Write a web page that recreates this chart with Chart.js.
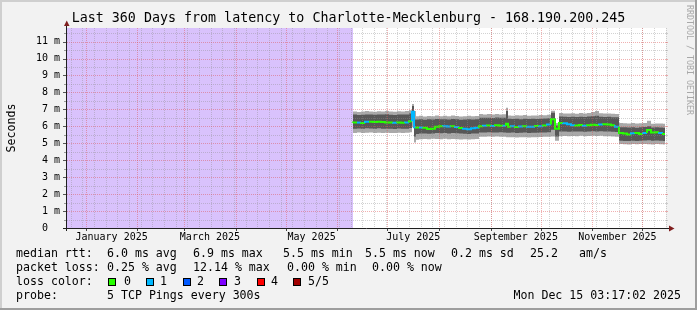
<!DOCTYPE html>
<html><head><meta charset="utf-8">
<script src="https://cdn.jsdelivr.net/npm/chart.js@4.4.1/dist/chart.umd.min.js"></script>
<style>html,body{margin:0;padding:0;background:#f2f2f2;overflow:hidden}canvas{display:block}</style>
</head><body>
<canvas id="c" width="697" height="310"></canvas>
<script>
// ---------- data ----------
const titleText = 'Last 360 Days from latency to Charlotte-Mecklenburg - 168.190.200.245';
const yAxisTitle = 'Seconds';
const endTime = Date.UTC(2025, 11, 15, 3, 17, 2);
const spanDays = 360;
const yMax = 11.8; // ms
const yTickValues = [0,1,2,3,4,5,6,7,8,9,10,11];
const yTickLabels = ['0  ','1 m','2 m','3 m','4 m','5 m','6 m','7 m','8 m','9 m','10 m','11 m'];
const xLabelMonths = [0, 2, 4, 6, 8, 10]; // months of 2025
const xLabels = ['January 2025','March 2025','May 2025','July 2025','September 2025','November 2025'];

// days since start of graph window
const days = [172.2,174.6,177.0,179.4,181.8,184.2,186.6,189.0,191.4,193.8,196.2,198.6,201.0,203.4,205.8,207.6,
  208.8,210.0,
  211.8,214.2,216.6,219.0,221.4,223.8,226.2,228.6,231.0,233.4,235.8,238.2,240.6,243.0,245.4,247.8,250.2,
  252.6,255.0,257.4,259.8,262.2,264.0,
  265.2,
  267.0,269.4,271.8,274.2,276.6,279.0,281.4,283.8,286.2,288.6,291.0,
  293.4,295.8,
  298.2,300.6,303.0,305.4,307.8,310.2,312.6,315.0,317.4,319.8,322.2,324.6,327.0,329.4,331.8,
  334.2,336.6,339.0,341.4,343.8,346.2,348.6,351.0,353.4,355.8,358.2,359.4];

const lightTop = [6.86,6.88,6.85,6.87,6.90,6.88,6.86,6.89,6.87,6.90,6.88,6.86,6.89,6.88,6.90,6.95,
  7.32,6.90,
  6.60,6.62,6.58,6.61,6.60,6.63,6.60,6.62,6.59,6.64,6.61,6.58,6.60,6.62,6.59,6.61,6.72,
  6.70,6.72,6.69,6.73,6.70,6.71,
  7.10,
  6.64,6.62,6.65,6.63,6.66,6.62,6.64,6.63,6.66,6.65,6.68,
  6.92,6.20,
  6.78,6.76,6.75,6.77,6.74,6.78,6.76,6.79,6.85,6.90,6.77,6.75,6.76,6.74,6.73,
  6.20,6.18,6.17,6.19,6.16,6.18,6.20,6.33,6.15,6.17,6.16,6.15];

const darkTop = [6.68,6.69,6.67,6.68,6.70,6.69,6.68,6.70,6.69,6.71,6.68,6.67,6.70,6.69,6.70,6.75,
  7.20,6.40,
  6.40,6.41,6.39,6.42,6.40,6.43,6.41,6.42,6.40,6.43,6.41,6.39,6.40,6.42,6.40,6.41,6.50,
  6.50,6.51,6.49,6.52,6.50,6.51,
  6.90,
  6.44,6.43,6.45,6.42,6.44,6.43,6.44,6.43,6.45,6.46,6.47,
  6.80,6.05,
  6.58,6.56,6.55,6.57,6.55,6.56,6.55,6.58,6.60,6.62,6.56,6.55,6.56,6.54,6.53,
  5.95,5.94,5.93,5.94,5.92,5.95,5.96,6.00,5.93,5.94,5.93,5.92];

const median = [6.21,6.22,6.22,6.20,6.27,6.27,6.26,6.27,6.25,6.23,6.22,6.21,6.23,6.21,6.22,6.30,
  6.86,5.95,
  5.93,5.93,5.92,5.84,5.86,5.97,6.00,6.01,5.99,6.00,5.96,5.90,5.85,5.83,5.88,5.92,6.00,
  6.03,6.05,6.02,6.06,6.04,6.03,
  6.15,
  5.98,6.00,5.96,5.99,6.01,5.97,5.98,6.02,6.00,6.05,6.10,
  6.41,5.85,
  6.20,6.18,6.12,6.06,6.05,6.08,6.04,6.06,6.09,6.08,6.10,6.12,6.10,6.06,5.98,
  5.60,5.58,5.52,5.59,5.60,5.55,5.61,5.78,5.64,5.65,5.60,5.55];

const darkBot = [5.86,5.85,5.87,5.85,5.88,5.87,5.86,5.88,5.86,5.85,5.86,5.84,5.87,5.85,5.86,5.90,
  6.40,5.40,
  5.55,5.58,5.57,5.56,5.58,5.60,5.59,5.60,5.58,5.60,5.59,5.57,5.56,5.55,5.57,5.58,5.63,
  5.64,5.65,5.63,5.64,5.65,5.64,
  5.62,
  5.62,5.63,5.61,5.62,5.63,5.61,5.62,5.62,5.63,5.64,5.65,
  5.80,5.40,
  5.70,5.69,5.68,5.70,5.69,5.70,5.68,5.70,5.71,5.70,5.71,5.70,5.69,5.68,5.66,
  5.15,5.14,5.13,5.15,5.14,5.15,5.16,5.17,5.15,5.16,5.15,5.14];

const lightBot = [5.62,5.60,5.63,5.61,5.62,5.63,5.61,5.62,5.60,5.62,5.61,5.60,5.62,5.61,5.62,5.65,
  5.95,5.05,
  5.20,5.24,5.25,5.23,5.26,5.25,5.24,5.26,5.23,5.25,5.24,5.22,5.23,5.22,5.24,5.25,5.38,
  5.39,5.40,5.38,5.40,5.39,5.38,
  5.35,
  5.35,5.36,5.34,5.35,5.36,5.34,5.35,5.36,5.37,5.38,5.39,
  5.40,5.15,
  5.42,5.43,5.41,5.43,5.42,5.44,5.42,5.43,5.44,5.43,5.44,5.42,5.41,5.40,5.38,
  4.95,4.94,4.93,4.95,4.94,4.96,4.95,4.94,4.93,4.95,4.94,4.93];

const lossCount = [0,1,0,1,0,0,0,0,0,0,1,0,0,1,0,1,
  1,0,
  1,0,0,0,0,0,1,1,0,1,0,1,1,1,1,0,1,
  0,1,0,0,1,0,
  0,
  1,0,1,0,1,1,0,1,0,1,0,
  0,0,
  1,1,1,0,0,1,0,0,0,1,0,0,0,1,0,
  0,0,1,0,0,1,0,0,0,1,0,0];

const lossColors = ['#26ff00','#00b8ff','#0059ff','#7e00ff','#ff0000','#a10000'];
const lossLabels = ['0','1','2','3','4','5/5'];
const rttStats = ['6.0 ms avg','6.9 ms max','5.5 ms min','5.5 ms now','0.2 ms sd','25.2','am/s'];
const lossStats = ['0.25 % avg','12.14 % max','0.00 % min','0.00 % now'];
const probeText = '5 TCP Pings every 300s';
const dateText = 'Mon Dec 15 03:17:02 2025';
const watermark = 'RRDTOOL / TOBI OETIKER';

// ---------- helpers ----------
const startTime = endTime - spanDays * 86400000;
const dayOf = (y, m, d) => (Date.UTC(y, m, d) - startTime) / 86400000;
const pts = arr => days.map((d, i) => ({x: d, y: arr[i]}));
const noData = [{x: 0, y: yMax}, {x: days[0], y: yMax}];

const MONO = '"DejaVu Sans Mono", monospace';
Chart.defaults.font.family = MONO;

const rrdPlugin = {
  id: 'rrd',
  beforeDraw(chart) {
    const c = chart.ctx, a = chart.chartArea, W = chart.width, H = chart.height;
    c.save();
    c.fillStyle = '#f2f2f2'; c.fillRect(0, 0, W, H);
    c.fillStyle = '#ffffff'; c.fillRect(a.left, a.top, a.right - a.left, a.bottom - a.top);
    c.fillStyle = '#cfcfcf'; c.fillRect(0, 0, W, 2); c.fillRect(0, 0, 2, H);
    c.fillStyle = '#9e9e9e'; c.fillRect(0, H - 2, W, 2); c.fillRect(W - 2, 0, 2, H);
    c.restore();
  },
  afterDatasetsDraw(chart) {
    const c = chart.ctx, a = chart.chartArea;
    const xs = chart.scales.x, ys = chart.scales.y;
    const minor = 'rgba(143,143,143,0.4)', major = 'rgba(222,79,79,0.45)';
    c.save();
    c.lineWidth = 1;
    const hline = (v, col) => {
      const y = Math.round(ys.getPixelForValue(v)) + 0.5;
      c.strokeStyle = col; c.setLineDash([1, 1]);
      c.beginPath(); c.moveTo(a.left + 1, y); c.lineTo(a.right, y); c.stroke();
      c.setLineDash([]);
      c.beginPath(); c.moveTo(a.right, y); c.lineTo(a.right + 2, y); c.stroke();
      c.strokeStyle = col === major ? '#555' : '#999';
      c.beginPath(); c.moveTo(a.left - (col === major ? 3 : 2), y); c.lineTo(a.left, y); c.stroke();
    };
    const vline = (d, col, tick) => {
      const x = Math.round(xs.getPixelForValue(d)) + 0.5;
      c.strokeStyle = col; c.setLineDash([1, 1]);
      c.beginPath(); c.moveTo(x, a.top); c.lineTo(x, a.bottom); c.stroke();
      c.setLineDash([]);
      if (tick) {
        c.strokeStyle = '#444';
        c.beginPath(); c.moveTo(x, a.bottom); c.lineTo(x, a.bottom + 3); c.stroke();
      }
    };
    for (let v = 0.5; v < yMax; v += 1) hline(v, minor);
    for (let d = dayOf(2024, 11, 23); d < spanDays; d += 7) vline(d, minor, false);
    yTickValues.forEach(v => { if (v > 0) hline(v, major); });
    for (let m = 0; m < 12; m++) vline(dayOf(2025, m, 1), major, true);
    // axes
    c.strokeStyle = '#1f1f1f';
    c.beginPath(); c.moveTo(a.left + 0.5, a.bottom + 3); c.lineTo(a.left + 0.5, a.top - 2); c.stroke();
    c.beginPath(); c.moveTo(a.left - 3, a.bottom + 0.5); c.lineTo(a.right + 4, a.bottom + 0.5); c.stroke();
    // arrows
    c.fillStyle = 'rgb(128,31,31)';
    c.beginPath(); c.moveTo(a.left - 2, a.top - 2); c.lineTo(a.left + 3.5, a.top - 2); c.lineTo(a.left + 0.75, a.top - 7.5); c.closePath(); c.fill();
    c.beginPath(); c.moveTo(a.right + 3, a.bottom - 2.5); c.lineTo(a.right + 3, a.bottom + 3.5); c.lineTo(a.right + 8.5, a.bottom + 0.5); c.closePath(); c.fill();
    c.restore();
  },
  afterDraw(chart) {
    const c = chart.ctx;
    c.save();
    c.fillStyle = '#000';
    c.textBaseline = 'middle';
    c.textAlign = 'left';
    c.font = '11.6px ' + MONO;
    c.fillText('median rtt:', 16, 254);
    const rx = [107, 193, 283, 365, 451, 530, 579];
    rttStats.forEach((t, i) => c.fillText(t, rx[i], 254));
    c.fillText('packet loss:', 16, 268);
    const lx = [107, 193, 287, 372];
    lossStats.forEach((t, i) => c.fillText(t, lx[i], 268));
    c.fillText('loss color:', 16, 282);
    const bx = [108, 146, 183, 219, 257, 293];
    const tx = [124, 160, 197, 234, 271, 308];
    lossColors.forEach((col, i) => {
      c.fillStyle = col; c.fillRect(bx[i], 278, 8, 8);
      c.strokeStyle = '#000'; c.lineWidth = 1; c.strokeRect(bx[i] + 0.5, 278.5, 7, 7);
      c.fillStyle = '#000'; c.fillText(lossLabels[i], tx[i], 282);
    });
    c.fillText('probe:', 16, 296);
    c.fillText(probeText, 107, 296);
    c.textAlign = 'right';
    c.fillText(dateText, 681, 296);
    c.fillStyle = '#a8a8a8';
    c.font = '8.3px ' + MONO;
    c.textAlign = 'left';
    c.translate(689, 5);
    c.rotate(Math.PI / 2);
    c.fillText(watermark, 0, 0);
    c.restore();
  }
};

new Chart(document.getElementById('c'), {
  type: 'line',
  data: {
    datasets: [
      { label: 'median', data: pts(median), borderWidth: 2, pointRadius: 0, stepped: 'after', fill: false,
        borderColor: lossColors[0],
        segment: { borderColor: ctx => lossColors[lossCount[ctx.p0DataIndex]] } },
      { label: 'darkTop', data: pts(darkTop), borderWidth: 0, borderColor: 'rgba(0,0,0,0)', pointRadius: 0,
        stepped: 'after', fill: {target: 2}, backgroundColor: '#575757' },
      { label: 'darkBot', data: pts(darkBot), borderWidth: 0, borderColor: 'rgba(0,0,0,0)', pointRadius: 0,
        stepped: 'after', fill: false },
      { label: 'lightTop', data: pts(lightTop), borderWidth: 0, borderColor: 'rgba(0,0,0,0)', pointRadius: 0,
        stepped: 'after', fill: {target: 4}, backgroundColor: '#a9a9a9' },
      { label: 'lightBot', data: pts(lightBot), borderWidth: 0, borderColor: 'rgba(0,0,0,0)', pointRadius: 0,
        stepped: 'after', fill: false },
      { label: 'nodata', data: noData, borderWidth: 0, borderColor: 'rgba(0,0,0,0)', pointRadius: 0,
        stepped: 'after', fill: 'origin', backgroundColor: '#d9c2fc' }
    ]
  },
  options: {
    responsive: false,
    animation: false,
    devicePixelRatio: 1,
    layout: { padding: 0 },
    plugins: {
      legend: { display: false },
      tooltip: { enabled: false },
      title: { display: true, text: titleText, color: '#000',
        font: { family: MONO, size: 13.33, weight: 'normal', lineHeight: 1.2 },
        padding: { top: 11, bottom: 1 } }
    },
    scales: {
      x: {
        type: 'linear', min: 0, max: spanDays, position: 'bottom',
        grid: { display: false, drawTicks: false }, border: { display: false },
        afterBuildTicks: s => { s.ticks = xLabelMonths.map(m => ({ value: (dayOf(2025, m, 1) + dayOf(2025, m + 1, 1)) / 2 })); },
        afterFit: s => { s.height = 82; },
        ticks: { autoSkip: false, maxRotation: 0, minRotation: 0, padding: 3, color: '#000',
          font: { family: MONO, size: 10 },
          callback: (v, i) => xLabels[i] }
      },
      y: {
        type: 'linear', min: 0, max: yMax, position: 'left',
        grid: { display: false, drawTicks: false }, border: { display: false },
        afterBuildTicks: s => { s.ticks = yTickValues.map(v => ({ value: v })); },
        afterFit: s => { s.width = 66; },
        title: { display: true, text: yAxisTitle, color: '#000', font: { family: MONO, size: 11.6 }, padding: { top: 5, bottom: 4 } },
        ticks: { padding: 6, color: '#000', font: { family: MONO, size: 10 },
          callback: (v, i) => yTickLabels[i] }
      },
      yRight: {
        type: 'linear', min: 0, max: yMax, position: 'right',
        grid: { display: false, drawTicks: false }, border: { display: false },
        ticks: { display: false },
        afterFit: s => { s.width = 31; }
      }
    }
  },
  plugins: [rrdPlugin]
});
</script>
</body></html>
